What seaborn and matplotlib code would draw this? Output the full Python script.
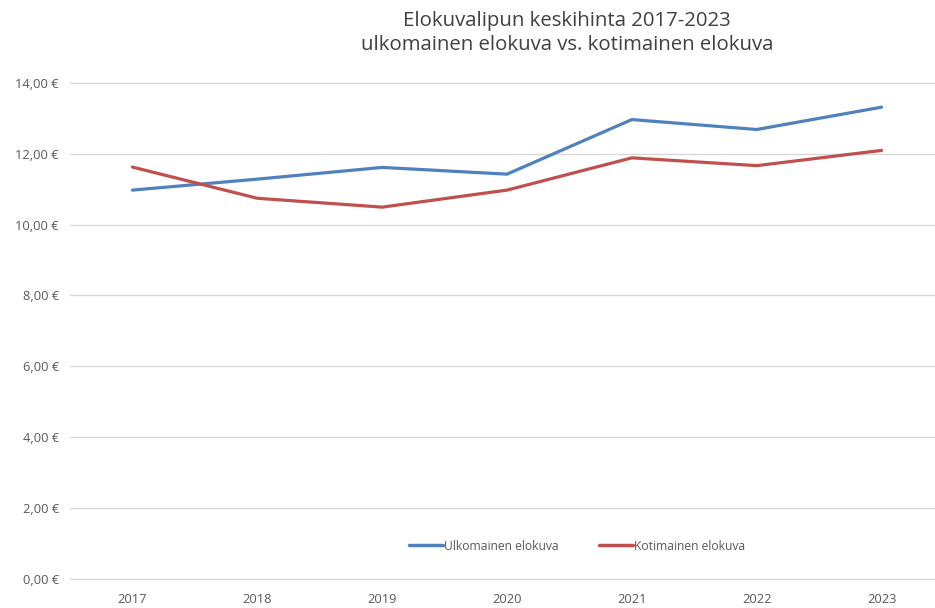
import matplotlib
matplotlib.use("Agg")
import matplotlib.pyplot as plt
import seaborn as sns
import pandas as pd
from matplotlib.ticker import FuncFormatter
from matplotlib.lines import Line2D

years = ["2017", "2018", "2019", "2020", "2021", "2022", "2023"]
ulkomainen = [10.97, 11.28, 11.61, 11.42, 12.96, 12.68, 13.31]
kotimainen = [11.62, 10.74, 10.49, 10.97, 11.88, 11.66, 12.09]
series_names = ["Ulkomainen elokuva", "Kotimainen elokuva"]
title = "Elokuvalipun keskihinta 2017-2023\nulkomainen elokuva vs. kotimainen elokuva"

df = pd.DataFrame({
    "year": years * 2,
    "price": ulkomainen + kotimainen,
    "series": [series_names[0]] * len(years) + [series_names[1]] * len(years),
})
df["x"] = df["year"].map({y: i for i, y in enumerate(years)})

sns.set_theme(style="white")
plt.rcParams["font.family"] = ["Open Sans", "DejaVu Sans"]

fig = plt.figure(figsize=(9.35, 6.08), dpi=100)
ax = fig.add_axes([70 / 935, 29 / 608, 874 / 935, (579 - 82.7) / 608])

sns.lineplot(data=df, x="x", y="price", hue="series", palette=["#4F81BD", "#C0504D"],
             linewidth=2.3, ax=ax, legend=False, sort=False)

ax.set_xlim(-0.5, len(years) - 0.5)
ax.set_ylim(0, 14)
ax.set_yticks(range(0, 15, 2))
ax.yaxis.set_major_formatter(FuncFormatter(lambda v, p: f"{v:.2f}".replace(".", ",") + " €"))
ax.set_xticks(range(len(years)))
ax.set_xticklabels(years)
ax.grid(axis="y", color="#d9d9d9", linewidth=1)
for gl in ax.get_ygridlines():
    gl.set_clip_on(False)
ax.set_axisbelow(True)
for s in ax.spines.values():
    s.set_visible(False)
ax.tick_params(axis="both", length=0, labelsize=9.3, colors="#595959", pad=8)
ax.tick_params(axis="x", pad=10)
ax.set_xlabel("")
ax.set_ylabel("")

handles = [Line2D([], [], color="#4F81BD", lw=2.5), Line2D([], [], color="#C0504D", lw=2.5)]
fig.legend(handles, series_names, loc="center", bbox_to_anchor=(577 / 935, 1 - 546 / 608),
           ncol=2, frameon=False, fontsize=8.7, labelcolor="#595959", handlelength=2.8,
           handletextpad=0.08, columnspacing=3.4)

fig.text(567 / 935, 1 - 33 / 608, title, ha="center", va="center", fontsize=14.7,
         color="#404040", linespacing=1.25)

fig.savefig("out.png", dpi=100)
